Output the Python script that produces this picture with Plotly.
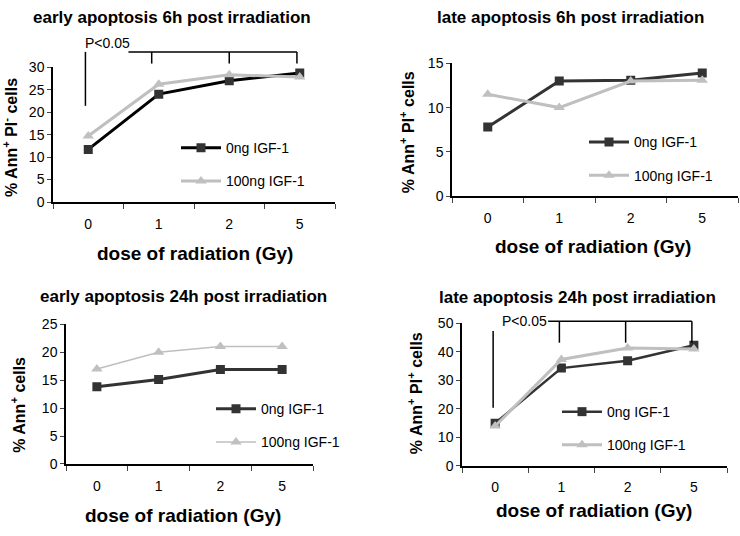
import plotly.graph_objects as go

W, H = 740, 536

doses = ["0", "1", "2", "5"]
series_names = ["0ng IGF-1", "100ng IGF-1"]

early6_0 = [11.7, 24.0, 27.0, 28.7]
early6_100 = [14.7, 26.2, 28.3, 27.8]
late6_0 = [7.8, 13.0, 13.1, 13.9]
late6_100 = [11.5, 10.0, 13.0, 13.1]
early24_0 = [13.8, 15.1, 16.9, 16.9]
early24_100 = [17.0, 20.0, 21.0, 21.0]
late24_0 = [15.0, 34.3, 36.9, 42.3]
late24_100 = [14.0, 37.3, 41.3, 41.0]

titles = ["early apoptosis 6h post irradiation", "late apoptosis 6h post irradiation",
          "early apoptosis 24h post irradiation", "late apoptosis 24h post irradiation"]
ytitles = ["% Ann<sup>+</sup> PI<sup>-</sup> cells", "% Ann<sup>+</sup> PI<sup>+</sup> cells",
           "% Ann<sup>+</sup> cells", "% Ann<sup>+</sup> PI<sup>+</sup> cells"]
xtitle = "dose of radiation (Gy)"
ymax = [30, 15, 25, 50]
ydtick = [5, 5, 5, 10]

# pixel boxes: (x0, x1, ybottom, ytop)
boxes = [(53, 335, 200, 61), (452, 738, 194, 57), (66, 313, 470, 326), (462, 727, 472, 325)]
dark = ["#000000", "#333333", "#333333", "#333333"]
light_w = [3, 3, 1.5, 3]
dark_w = [3, 3, 3, 2.5]

data = [(early6_0, early6_100), (late6_0, late6_100), (early24_0, early24_100), (late24_0, late24_100)]

FONT = "Liberation Sans, Arial, sans-serif"
fig = go.Figure()

def px(x):
    return x / W

def py(y):
    return 1 - y / H

legend_pos = [(176, 128), (584, 122), (211, 397), (557, 400)]
title_pos = [(172, 10), (570, 10), (183, 297), (577, 298)]
xt_pos = [(195, 253), (593, 246), (183, 523), (594, 518)]
yt_pos = [(10, 134), (407, 128), (18, 409), (415, 397)]

annotations = []
shapes = []
for i in range(4):
    ax = "" if i == 0 else str(i + 1)
    lg = "legend" if i == 0 else "legend" + str(i + 1)
    d0, d1 = data[i]
    fig.add_trace(go.Scatter(x=doses, y=d0, name=series_names[0], mode="lines+markers",
                             line=dict(color=dark[i], width=dark_w[i]),
                             marker=dict(symbol="square", size=9, color="#333333"),
                             xaxis="x" + ax, yaxis="y" + ax, legend=lg, legendgroup="a%d" % i))
    fig.add_trace(go.Scatter(x=doses, y=d1, name=series_names[1], mode="lines+markers",
                             line=dict(color="#bfbfbf", width=light_w[i]),
                             marker=dict(symbol="triangle-up", size=10, color="#c0c0c0"),
                             xaxis="x" + ax, yaxis="y" + ax, legend=lg, legendgroup="b%d" % i))
    x0, x1, yb, yt = boxes[i]
    fig.update_layout(**{
        "xaxis" + ax: dict(domain=[px(x0), px(x1)], anchor="y" + ax, type="category",
                           range=[-0.5, 3.5], tickson="boundaries", ticks="outside", ticklen=5,
                           showline=True, linecolor="black", linewidth=1.5, showgrid=False,
                           tickfont=dict(size=14, color="black"), ticklabelstandoff=8,
                           zeroline=False, fixedrange=True),
        "yaxis" + ax: dict(domain=[py(yb), py(yt)], anchor="x" + ax, range=[0, ymax[i]],
                           dtick=ydtick[i], ticks="outside", ticklen=4, showline=True,
                           linecolor="black", linewidth=1.5, showgrid=False, zeroline=False,
                           tickfont=dict(size=14, color="black"), fixedrange=True),
        lg: dict(x=px(legend_pos[i][0]), y=py(legend_pos[i][1]), xanchor="left", yanchor="top",
                 bgcolor="rgba(0,0,0,0)", font=dict(size=14, color="black", family=FONT),
                 tracegroupgap=12, itemwidth=40),
    })
    annotations.append(dict(text="<b>%s</b>" % titles[i], x=px(title_pos[i][0]), y=py(title_pos[i][1]),
                            xref="paper", yref="paper", showarrow=False, xanchor="center", yanchor="middle",
                            font=dict(size=17, color="black")))
    annotations.append(dict(text="<b>%s</b>" % xtitle, x=px(xt_pos[i][0]), y=py(xt_pos[i][1]),
                            xref="paper", yref="paper", showarrow=False, xanchor="center", yanchor="middle",
                            font=dict(size=19, color="black")))
    annotations.append(dict(text="<b>%s</b>" % ytitles[i], x=px(yt_pos[i][0]), y=py(yt_pos[i][1]),
                            xref="paper", yref="paper", showarrow=False, xanchor="center", yanchor="middle",
                            textangle=-90, font=dict(size=16, color="black")))

# significance brackets (category index coords -> axis-domain coords)
def bracket(i, vx, vy0, vy1, hx0, hx1, hy, ticks_x, ty, tx, tyt):
    ax = "" if i == 0 else str(i + 1)
    xr, yr = "x" + ax + " domain", "y" + ax + " domain"
    fx = lambda c: (c + 0.5) / 4
    fy = lambda v: v / ymax[i]
    ln = dict(color="black", width=1.5)
    shapes.append(dict(type="line", xref=xr, yref=yr, x0=fx(vx), x1=fx(vx), y0=fy(vy0), y1=fy(vy1), line=ln))
    shapes.append(dict(type="line", xref=xr, yref=yr, x0=fx(hx0), x1=fx(hx1), y0=fy(hy), y1=fy(hy), line=ln))
    for t in ticks_x:
        shapes.append(dict(type="line", xref=xr, yref=yr, x0=fx(t), x1=fx(t), y0=fy(hy), y1=fy(ty), line=ln))
    annotations.append(dict(text="P<0.05", xref=xr, yref=yr, x=fx(tx), y=fy(tyt), showarrow=False,
                            xanchor="center", yanchor="middle", font=dict(size=14, color="black")))

bracket(0, -0.04, 21.4, 33.4, 0.57, 2.96, 33.4, [0.9, 2.0, 2.96], 30.8, 0.27, 35.3)
bracket(3, -0.03, 20.4, 47.3, 0.80, 2.97, 50.7, [0.97, 1.97, 2.97], 43.2, 0.44, 50.7)

fig.update_layout(width=W, height=H, margin=dict(l=0, r=0, t=0, b=0),
                  paper_bgcolor="white", plot_bgcolor="white",
                  font=dict(family=FONT, color="black"), hovermode=False,
                  annotations=annotations, shapes=shapes)

fig.write_html("out.html", config={"displayModeBar": False},
               post_script="document.body.style.margin='0';document.body.style.overflow='hidden';")
